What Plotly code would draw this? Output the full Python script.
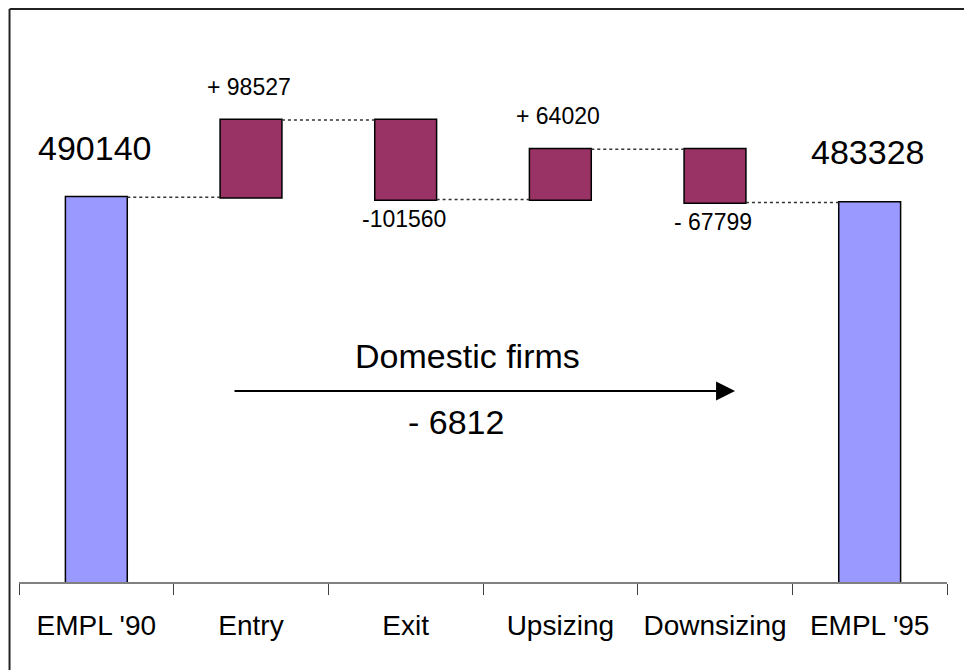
import numpy as np
import plotly.graph_objects as go

categories = ["EMPL '90", "Entry", "Exit", "Upsizing", "Downsizing", "EMPL '95"]
measures = ["absolute", "relative", "relative", "relative", "relative", "total"]
values = [490140, 98527, -101560, 64020, -67799, 0]
value_labels = ["490140", "+ 98527", "-101560", "+ 64020", "- 67799", "483328"]
arrow_title = "Domestic firms"
arrow_total = "- 6812"

FONT = "Arial, Liberation Sans, sans-serif"
MAROON = "#993366"
BLUE = "#9999FF"

fig = go.Figure(go.Waterfall(
    x=categories,
    y=values,
    measure=measures,
    increasing=dict(marker=dict(color=MAROON, line=dict(color="black", width=1.5))),
    decreasing=dict(marker=dict(color=MAROON, line=dict(color="black", width=1.5))),
    totals=dict(marker=dict(color=BLUE, line=dict(color="black", width=1.5))),
    connector=dict(mode="between", line=dict(color="#333333", width=1.5, dash="dot")),
    hoverinfo="skip",
))

# label positions from the running totals
level = 0
annotations = []
for i, (cat, m, v, lab) in enumerate(zip(categories, measures, values, value_labels)):
    if m == "absolute":
        level = v
        ypos, shift, size = level, 49, 34
    elif m == "total":
        ypos, shift, size = level, 51, 34
    else:
        new = level + v
        if v >= 0:
            ypos, shift, size = new, 33, 23
        else:
            ypos, shift, size = new, -19, 23
        level = new
    annotations.append(dict(
        x=cat, y=ypos, xref="x", yref="y", text=lab, showarrow=False,
        xanchor="center", yanchor="middle", yshift=shift, xshift=-2,
        font=dict(size=size, color="black", family=FONT),
    ))

# arrow with captions
annotations.append(dict(
    x=0.7716, y=0.3524, ax=0.2306, ay=0.3524,
    xref="x domain", yref="y domain", axref="x domain", ayref="y domain",
    text="", showarrow=True, arrowhead=2, arrowsize=1.9, arrowwidth=2,
    arrowcolor="black",
))
annotations.append(dict(
    x=0.4833, y=0.417, xref="x domain", yref="y domain", text=arrow_title,
    showarrow=False, xanchor="center", yanchor="middle",
    font=dict(size=34, color="black", family=FONT),
))
annotations.append(dict(
    x=0.4709, y=0.2943, xref="x domain", yref="y domain", text=arrow_total,
    showarrow=False, xanchor="center", yanchor="middle",
    font=dict(size=34, color="black", family=FONT),
))

fig.update_layout(
    width=964, height=670,
    margin=dict(l=19, r=17, t=40, b=88),
    paper_bgcolor="white", plot_bgcolor="white",
    showlegend=False,
    waterfallgap=0.6,
    font=dict(family=FONT, color="black"),
    annotations=annotations,
    shapes=[
        dict(type="line", xref="paper", yref="paper",
             x0=-0.0102, x1=-0.0102, y0=-0.17, y1=1.057,
             line=dict(color="#222222", width=2)),
        dict(type="line", xref="paper", yref="paper",
             x0=-0.0102, x1=1.03, y0=1.057, y1=1.057,
             line=dict(color="#222222", width=2)),
    ],
)
fig.update_xaxes(
    type="category", range=[-0.5, 5.5],
    showline=True, linecolor="#808080", linewidth=1.5,
    ticks="outside", tickson="boundaries", ticklen=11, tickcolor="#404040", tickwidth=1,
    showgrid=False, zeroline=False,
    tickfont=dict(size=28, color="black", family=FONT),
    ticklabelstandoff=18,
)
fig.update_yaxes(range=[0, 690446], visible=False, showgrid=False, zeroline=False)

fig.write_html("out.html")
